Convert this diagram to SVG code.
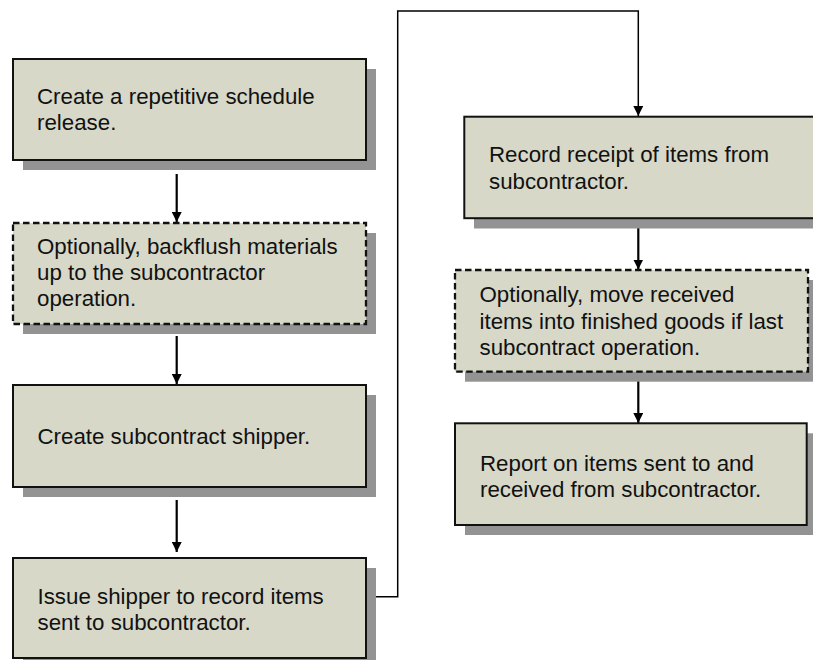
<svg xmlns="http://www.w3.org/2000/svg" width="813" height="660" viewBox="0 0 813 660">
<defs>
<style>
.box{fill:#D7D8C8;stroke:#111;stroke-width:2}
.dash{stroke-dasharray:6.5 3.5;stroke-width:2.3}
.sh{fill:#939393}
.t{font-family:"Liberation Sans",Arial,sans-serif;font-size:22.3px;fill:#111}
.c{fill:none;stroke:#000;stroke-width:2.2}
.c2{fill:none;stroke:#000;stroke-width:1.5}
</style>
<marker id="ah" viewBox="0 0 10 10" refX="10" refY="5" markerWidth="10" markerHeight="10" markerUnits="userSpaceOnUse" orient="auto">
<path d="M0,0 L10,5 L0,10 z" fill="#000"/>
</marker>
</defs>
<rect width="813" height="660" fill="#fff"/>
<g id="connectors">
<line class="c" x1="176.7" y1="174" x2="176.7" y2="222" marker-end="url(#ah)"/>
<line class="c" x1="176.7" y1="336" x2="176.7" y2="384" marker-end="url(#ah)"/>
<line class="c" x1="176.7" y1="500" x2="176.7" y2="552" marker-end="url(#ah)"/>
<polyline class="c2" points="366,596.7 397.7,596.7 397.7,11 638.3,11 638.3,116" marker-end="url(#ah)"/>
<line class="c" x1="638.3" y1="221.7" x2="638.3" y2="269.5" marker-end="url(#ah)"/>
<line class="c" x1="638.3" y1="375" x2="638.3" y2="423" marker-end="url(#ah)"/>
</g>
<g id="n1">
<rect class="sh" x="23" y="69" width="353" height="101"/>
<rect class="box" x="13" y="59" width="353" height="101"/>
<text class="t" x="37" y="104">Create a repetitive schedule</text>
<text class="t" x="37" y="130">release.</text>
</g>
<g id="n2">
<rect class="sh" x="23" y="233" width="353" height="101"/>
<rect class="box dash" x="13" y="223" width="353" height="101"/>
<text class="t" x="37" y="254">Optionally, backflush materials</text>
<text class="t" x="37" y="280">up to the subcontractor</text>
<text class="t" x="37" y="305.5">operation.</text>
</g>
<g id="n3">
<rect class="sh" x="23" y="395" width="353" height="102"/>
<rect class="box" x="13" y="385" width="353" height="102"/>
<text class="t" x="37.5" y="443.5">Create subcontract shipper.</text>
</g>
<g id="n4">
<rect class="sh" x="23" y="568" width="353" height="100"/>
<rect class="box" x="13" y="558" width="353" height="100"/>
<text class="t" x="37.5" y="603.5">Issue shipper to record items</text>
<text class="t" x="37.5" y="629.5">sent to subcontractor.</text>
</g>
<g id="n5">
<rect class="sh" x="474" y="127" width="353" height="101.5"/>
<rect class="box" x="464.3" y="116.7" width="353" height="101.5"/>
<text class="t" x="489" y="162">Record receipt of items from</text>
<text class="t" x="489" y="188.5">subcontractor.</text>
</g>
<g id="n6">
<rect class="sh" x="465" y="280" width="353" height="101.7"/>
<rect class="box dash" x="455" y="270" width="353" height="101.7"/>
<text class="t" x="479.5" y="302">Optionally, move received</text>
<text class="t" x="479.5" y="328.5">items into finished goods if last</text>
<text class="t" x="479.5" y="355">subcontract operation.</text>
</g>
<g id="n7">
<rect class="sh" x="465" y="433.3" width="351.7" height="101.7"/>
<rect class="box" x="455" y="423.3" width="351.7" height="101.7"/>
<text class="t" x="480" y="471">Report on items sent to and</text>
<text class="t" x="480" y="497">received from subcontractor.</text>
</g>
</svg>
